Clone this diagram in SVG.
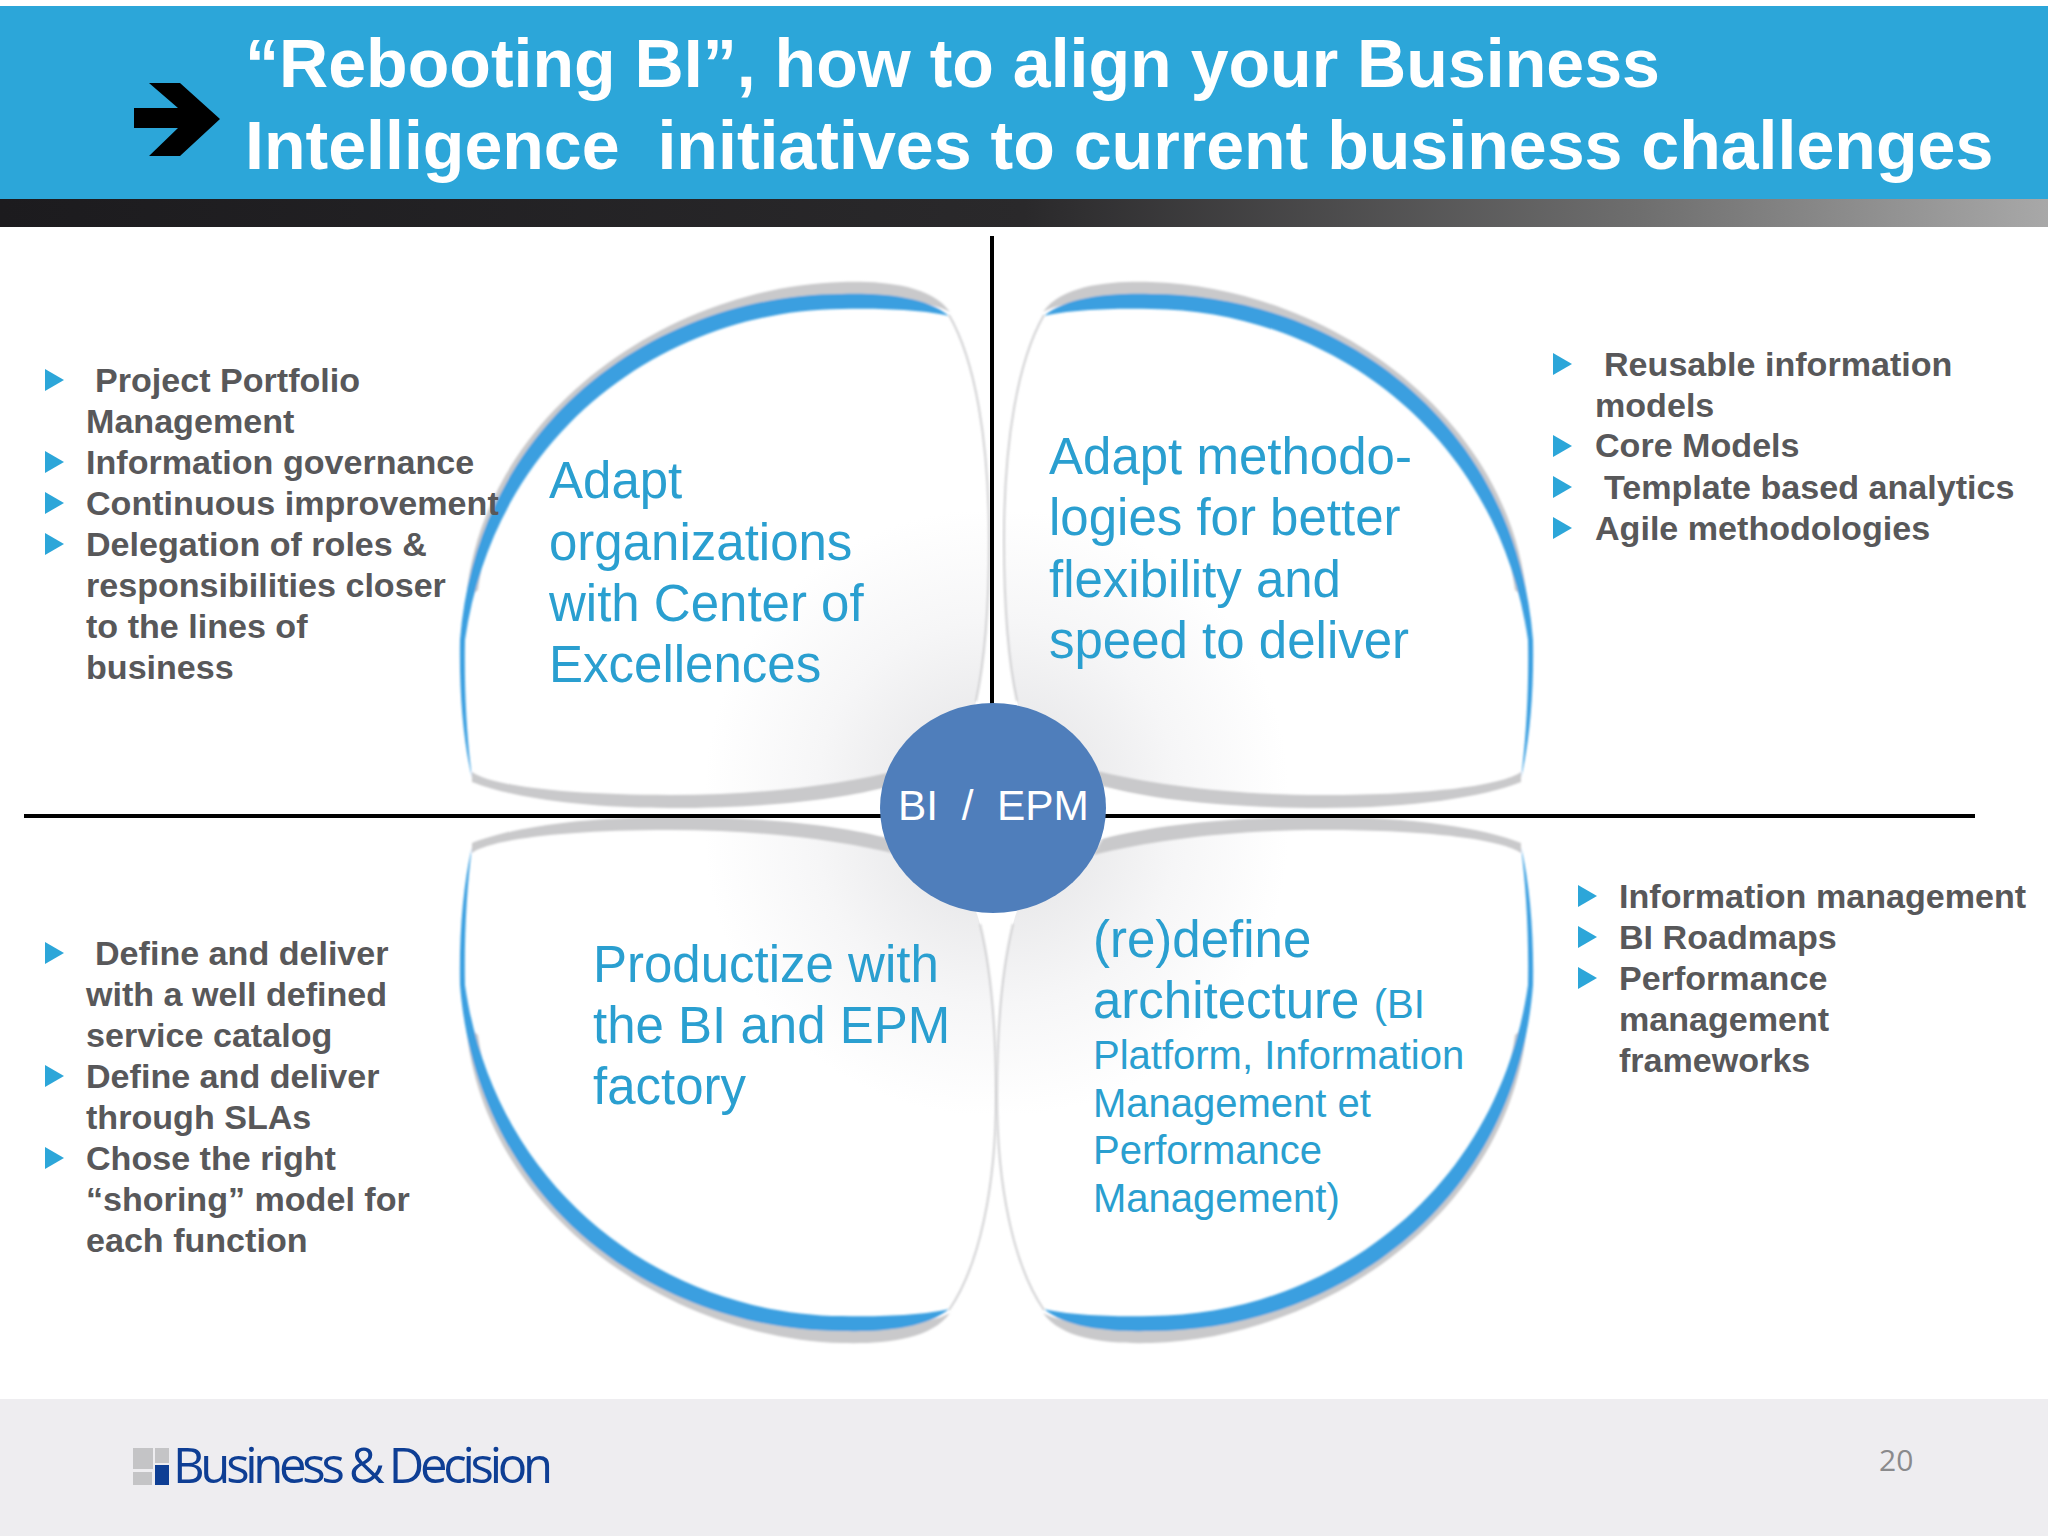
<svg xmlns="http://www.w3.org/2000/svg" width="2048" height="1536" viewBox="0 0 2048 1536">
<style>
.t{font-family:"Liberation Sans",Arial,sans-serif}
.title{font-size:68.1px;font-weight:700;fill:#fff}
.b{font-size:34.1px;font-weight:700;fill:#58585a}
.q{font-size:51px;fill:#2a9fd0}
.s{font-size:40px;fill:#2a9fd0}
.tri{fill:#2ca6d9}
</style>
<defs>
<linearGradient id="band" x1="0" x2="1" y1="0" y2="0"><stop offset="0" stop-color="#1c1b1e"/><stop offset=".5" stop-color="#2a292b"/><stop offset=".8" stop-color="#6e6e6e"/><stop offset="1" stop-color="#a8a8a8"/></linearGradient>
<radialGradient id="shade" gradientUnits="userSpaceOnUse" cx="985" cy="790" r="280"><stop offset="0" stop-color="#e2e2e4"/><stop offset=".6" stop-color="#f6f6f7"/><stop offset="1" stop-color="#fff"/></radialGradient>
<filter id="soft" x="-5%" y="-5%" width="110%" height="110%"><feGaussianBlur stdDeviation="1"/></filter>
<polygon id="bu" class="tri" points="0,-11 19,0 0,11"/>
<g id="rim" filter="url(#soft)">
<path d="M950 312C930 284 880 281 842 282C668 287 482 414 466 600L478 590C500 420 668 300 842 300C880 300 930 300 950 312Z" fill="#c9c9cb"/>
<path d="M949 316C925 296 880 293 842 294C664 294 478 414 460 640C459 690 463 740 472 778C467 740 464 690 465 640C496 426 672 310 842 309C880 308 925 310 949 316Z" fill="#3a9fe0"/>
<path d="M472 772C490 785 560 795 670 795C760 795 840 785 900 770L890 786C840 800 760 808 670 808C580 808 510 797 472 782Z" fill="#c9c9cb"/>
</g>
<g id="lens-top">
<path d="M949 315C975 360 989 440 989 540C989 610 985 660 976 701C968 745 930 775 890 786C800 806 740 808 670 808C580 808 510 797 472 782C458 730 458 690 462 640C484 416 668 284 842 284C880 282 925 284 949 315Z" fill="url(#shade)"/>
<use href="#rim"/>
<path d="M949 315C975 360 989 440 989 540C989 610 985 660 976 701" fill="none" stroke="#d0d0d2" stroke-width="2" filter="url(#soft)"/>
</g>
<g id="lens-low">
<path d="M949 315C980 360 996 440 996 530C996 610 990 660 980 701C970 745 930 775 890 786C800 806 740 808 670 808C580 808 510 797 472 782C458 730 458 690 462 640C484 416 668 284 842 284C880 282 925 284 949 315Z" fill="url(#shade)"/>
<use href="#rim"/>
<path d="M949 315C980 360 996 440 996 530C996 610 990 660 980 701" fill="none" stroke="#d0d0d2" stroke-width="2" filter="url(#soft)"/>
</g>
</defs>
<rect width="2048" height="1536" fill="#fff"/>
<g id="header">
<rect y="6" width="2048" height="193" fill="#2ca6d9"/>
<rect y="199" width="2048" height="28" fill="url(#band)"/>
<polygon points="149,83 180,83 220,119 180,156 149,156 178,128 134,128 134,108 178,108" fill="#000"/>
<text class="t title" x="245" y="87" xml:space="preserve">“Rebooting BI”, how to align your Business</text>
<text class="t title" x="245" y="169" xml:space="preserve">Intelligence  initiatives to current business challenges</text>
</g>
<g id="lens-tl"><use href="#lens-top"/></g>
<g id="lens-tr"><use href="#lens-top" transform="matrix(-1 0 0 1 1993 0)"/></g>
<g id="lens-bl"><use href="#lens-low" transform="matrix(1 0 0 -1 0 1625)"/></g>
<g id="lens-br"><use href="#lens-low" transform="matrix(-1 0 0 -1 1993 1625)"/></g>
<g id="connectors" stroke="#000" stroke-width="4">
<line x1="992" y1="236" x2="992" y2="720"/>
<line x1="24" y1="816" x2="1975" y2="816"/>
</g>
<g id="hub">
<ellipse cx="993" cy="808" rx="113" ry="105" fill="#4f7ebb"/>
<text class="t" x="993.500" y="820" text-anchor="middle" font-size="42.400" fill="#fff" xml:space="preserve">BI  /  EPM</text>
</g>
<g id="q-tl">
<text class="t q" x="549" y="498">Adapt</text>
<text class="t q" x="549" y="560">organizations</text>
<text class="t q" x="549" y="621">with Center of</text>
<text class="t q" x="549" y="682">Excellences</text>
</g>
<g id="q-tr">
<text class="t q" x="1049" y="474">Adapt methodo-</text>
<text class="t q" x="1049" y="535">logies for better</text>
<text class="t q" x="1049" y="597">flexibility and</text>
<text class="t q" x="1049" y="658">speed to deliver</text>
</g>
<g id="q-bl">
<text class="t q" x="593" y="982">Productize with</text>
<text class="t q" x="593" y="1043">the BI and EPM</text>
<text class="t q" x="593" y="1104">factory</text>
</g>
<g id="q-br">
<text class="t q" x="1093" y="957">(re)define</text>
<text class="t" x="1093" y="1018"><tspan class="q">architecture </tspan><tspan class="s">(BI</tspan></text>
<text class="t s" x="1093" y="1069">Platform, Information</text>
<text class="t s" x="1093" y="1117">Management et</text>
<text class="t s" x="1093" y="1164">Performance</text>
<text class="t s" x="1093" y="1212">Management)</text>
</g>
<g id="list-tl">
<use href="#bu" x="45" y="380"/><use href="#bu" x="45" y="462"/><use href="#bu" x="45" y="503"/><use href="#bu" x="45" y="544"/>
<text class="t b" x="95" y="392">Project Portfolio</text>
<text class="t b" x="86" y="433">Management</text>
<text class="t b" x="86" y="474">Information governance</text>
<text class="t b" x="86" y="515">Continuous improvement</text>
<text class="t b" x="86" y="556">Delegation of roles &amp;</text>
<text class="t b" x="86" y="597">responsibilities closer</text>
<text class="t b" x="86" y="638">to the lines of</text>
<text class="t b" x="86" y="679">business</text>
</g>
<g id="list-tr">
<use href="#bu" x="1553" y="364"/><use href="#bu" x="1553" y="446"/><use href="#bu" x="1553" y="487"/><use href="#bu" x="1553" y="528"/>
<text class="t b" x="1604" y="376">Reusable information</text>
<text class="t b" x="1595" y="417">models</text>
<text class="t b" x="1595" y="457">Core Models</text>
<text class="t b" x="1604" y="499">Template based analytics</text>
<text class="t b" x="1595" y="540">Agile methodologies</text>
</g>
<g id="list-bl">
<use href="#bu" x="45" y="953"/><use href="#bu" x="45" y="1076"/><use href="#bu" x="45" y="1158"/>
<text class="t b" x="95" y="965">Define and deliver</text>
<text class="t b" x="86" y="1006">with a well defined</text>
<text class="t b" x="86" y="1047">service catalog</text>
<text class="t b" x="86" y="1088">Define and deliver</text>
<text class="t b" x="86" y="1129">through SLAs</text>
<text class="t b" x="86" y="1170">Chose the right</text>
<text class="t b" x="86" y="1211">“shoring” model for</text>
<text class="t b" x="86" y="1252">each function</text>
</g>
<g id="list-br">
<use href="#bu" x="1578" y="896"/><use href="#bu" x="1578" y="937"/><use href="#bu" x="1578" y="978"/>
<text class="t b" x="1619" y="908">Information management</text>
<text class="t b" x="1619" y="949">BI Roadmaps</text>
<text class="t b" x="1619" y="990">Performance</text>
<text class="t b" x="1619" y="1031">management</text>
<text class="t b" x="1619" y="1072">frameworks</text>
</g>
<g id="footer">
<rect y="1399" width="2048" height="137" fill="#eeedf0"/>
<rect x="133" y="1448" width="20" height="21" fill="#c4c4c6"/>
<rect x="155" y="1448" width="14" height="15" fill="#c4c4c6"/>
<rect x="133" y="1472" width="19" height="13" fill="#c4c4c6"/>
<rect x="155" y="1465" width="14" height="20" fill="#0e3e94"/>
<text x="173" y="1483" font-family="'Open Sans',sans-serif" font-size="49" fill="#0e3e94" textLength="380" lengthAdjust="spacing">Business &amp; Decision</text>
<text x="1879" y="1471" font-family="'Open Sans',sans-serif" font-size="30" fill="#8a8a8c">20</text>
</g>
</svg>
